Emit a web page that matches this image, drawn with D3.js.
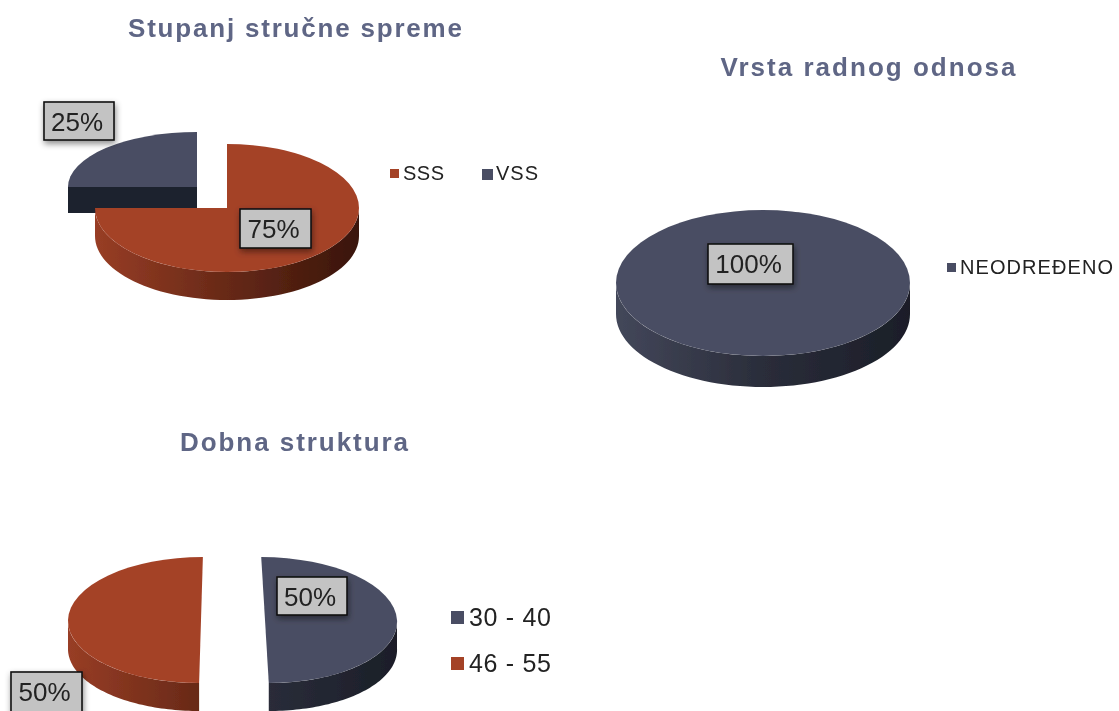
<!DOCTYPE html>
<html>
<head>
<meta charset="utf-8">
<script src="https://cdn.jsdelivr.net/npm/d3@7"></script>
<style>
  body { margin: 0; background: #fff; }
  text { font-family: "Liberation Sans", Arial, sans-serif; }
</style>
</head>
<body>
<div id="chart"></div>
<script>
const width = 1119;
const height = 711;

// Data
const stupanjLabels = ['SSS', 'VSS'];
const stupanjValues = [75, 25];
const vrstaLabels = ['NEODREĐENO'];
const vrstaValues = [100];
const dobLabels = ['30 - 40', '46 - 55'];
const dobValues = [50, 50];

const colorTop = { red: '#a44228', blue: '#4a4e63' };
const colorSide = {
  red: ['#983d25', '#672917', '#39150a'],
  blue: ['#43475a', '#2a2d3a', '#1b1e28']
};
const cutFace = { red: '#5a2312', blue: '#1e222e' };

// Layout of the three pies: slice centres are offset because the slices are exploded
const charts = [
  {
    title: 'Stupanj stručne spreme', titleX: 295, titleY: 37, titleW: 334,
    labels: stupanjLabels, values: stupanjValues, tones: ['red', 'blue'],
    slices: [
      { cx: 227, cy: 208, rx: 132, ry: 64, depth: 28, skew: 0, box: [240, 209, 71, 39] },
      { cx: 197, cy: 187, rx: 129, ry: 55, depth: 26, skew: 0, box: [44, 102, 70, 38] }
    ],
    legend: [
      { sx: 390, sy: 169, ss: 9, tx: 403, ty: 180, size: 20, w: 41 },
      { sx: 482, sy: 169, ss: 11, tx: 496, ty: 180, size: 20, w: 42 }
    ]
  },
  {
    title: 'Vrsta radnog odnosa', titleX: 868, titleY: 76, titleW: 295,
    labels: vrstaLabels, values: vrstaValues, tones: ['blue'],
    slices: [
      { cx: 763, cy: 283, rx: 147, ry: 73, depth: 31, skew: 0, box: [708, 244, 85, 40] }
    ],
    legend: [
      { sx: 947, sy: 263, ss: 9, tx: 960, ty: 274, size: 20, w: 153 }
    ]
  },
  {
    title: 'Dobna struktura', titleX: 294, titleY: 451, titleW: 228,
    labels: dobLabels, values: dobValues, tones: ['blue', 'red'],
    slices: [
      { cx: 265, cy: 620, rx: 132, ry: 63, depth: 28, skew: 0.06, box: [277, 577, 70, 38] },
      { cx: 201, cy: 620, rx: 133, ry: 63, depth: 28, skew: -0.03, box: [11, 672, 71, 42] }
    ],
    legend: [
      { sx: 451, sy: 611, ss: 13, tx: 469, ty: 626, size: 25, w: 82 },
      { sx: 451, sy: 657, ss: 13, tx: 469, ty: 672, size: 25, w: 82 }
    ]
  }
];

const svg = d3.select('#chart')
  .append('svg')
  .attr('width', width)
  .attr('height', height)
  .style('display', 'block');

const defs = svg.append('defs');

// Drop shadow for the value labels
const shadow = defs.append('filter').attr('id', 'box-shadow')
  .attr('x', '-20%').attr('y', '-20%').attr('width', '150%').attr('height', '160%');
shadow.append('feDropShadow')
  .attr('dx', 1).attr('dy', 3).attr('stdDeviation', 3)
  .attr('flood-color', '#000').attr('flood-opacity', 0.45);

// The reference is a soft upscaled image
const soft = defs.append('filter').attr('id', 'soft')
  .attr('filterUnits', 'userSpaceOnUse')
  .attr('x', 0).attr('y', 0).attr('width', width).attr('height', height);
soft.append('feGaussianBlur').attr('stdDeviation', 0.5);

const root = svg.append('g').attr('filter', 'url(#soft)');

const pie = d3.pie().sort(null).value(d => d.value);
const arc = d3.arc().innerRadius(0).outerRadius(1);
const side = d3.area().x(d => d.x).y0(d => d.y).y1(d => d.y + d.depth);
const halfPi = Math.PI / 2;

charts.forEach((chart, ci) => {
  const g = root.append('g');

  g.append('text')
    .attr('x', chart.titleX - chart.titleW / 2)
    .attr('y', chart.titleY)
    .attr('font-size', 26)
    .attr('font-weight', 'bold')
    .attr('textLength', chart.titleW)
    .attr('lengthAdjust', 'spacing')
    .attr('fill', '#5f6685')
    .text(chart.title);

  const rows = chart.values.map((value, i) => ({ value, label: chart.labels[i], tone: chart.tones[i], layout: chart.slices[i] }));
  const arcs = pie(rows);

  // Back slices first so the front one covers them
  arcs.slice().reverse().forEach((a, i) => {
    const s = a.data.layout;
    const tone = a.data.tone;
    const px = t => s.cx + s.rx * Math.sin(t) - s.skew * s.ry * Math.cos(t);
    const py = t => s.cy - s.ry * Math.cos(t);

    const gradId = `side-${ci}-${i}`;
    const grad = defs.append('linearGradient').attr('id', gradId)
      .attr('gradientUnits', 'userSpaceOnUse')
      .attr('x1', s.cx - s.rx).attr('x2', s.cx + s.rx).attr('y1', 0).attr('y2', 0);
    colorSide[tone].forEach((c, k) => {
      grad.append('stop').attr('offset', k / 2).attr('stop-color', c);
    });

    // Flat cut face, where one faces the viewer
    [a.startAngle, a.endAngle].forEach((t, k) => {
      const visible = k === 0 ? Math.sin(t) < -1e-6 : Math.sin(t) > 1e-6;
      if (!visible) return;
      g.append('path')
        .attr('d', `M${s.cx},${s.cy}L${px(t)},${py(t)}v${s.depth}L${s.cx},${s.cy + s.depth}Z`)
        .attr('fill', cutFace[tone]);
    });

    // Rim of the disc: only the front half shows
    const from = Math.max(a.startAngle, halfPi);
    const to = Math.min(a.endAngle, 3 * halfPi);
    if (to > from) {
      const pts = d3.range(0, 61).map(k => {
        const t = from + (to - from) * k / 60;
        return { x: px(t), y: py(t), depth: s.depth };
      });
      g.append('path').attr('d', side(pts)).attr('fill', `url(#${gradId})`);
    }

    // Top surface
    g.append('path')
      .attr('d', arc(a))
      .attr('transform', `matrix(${s.rx},0,${s.skew * s.ry},${s.ry},${s.cx},${s.cy})`)
      .attr('fill', colorTop[tone]);
  });

  // Value labels
  arcs.forEach(a => {
    const [x, y, w, h] = a.data.layout.box;
    g.append('rect')
      .attr('x', x).attr('y', y).attr('width', w).attr('height', h)
      .attr('fill', '#c3c3c3')
      .attr('stroke', '#111')
      .attr('stroke-width', 1.6)
      .attr('filter', 'url(#box-shadow)');
    g.append('text')
      .attr('x', x + w / 2 - 2)
      .attr('y', y + 29)
      .attr('text-anchor', 'middle')
      .attr('font-size', 26)
      .attr('fill', '#222')
      .text(`${a.data.value}%`);
  });

  // Legend
  chart.labels.forEach((label, i) => {
    const l = chart.legend[i];
    g.append('rect')
      .attr('x', l.sx).attr('y', l.sy).attr('width', l.ss).attr('height', l.ss)
      .attr('fill', colorTop[chart.tones[i]]);
    g.append('text')
      .attr('x', l.tx).attr('y', l.ty)
      .attr('font-size', l.size)
      .attr('textLength', l.w)
      .attr('lengthAdjust', 'spacing')
      .attr('fill', '#222')
      .text(label);
  });
});
</script>
</body>
</html>
